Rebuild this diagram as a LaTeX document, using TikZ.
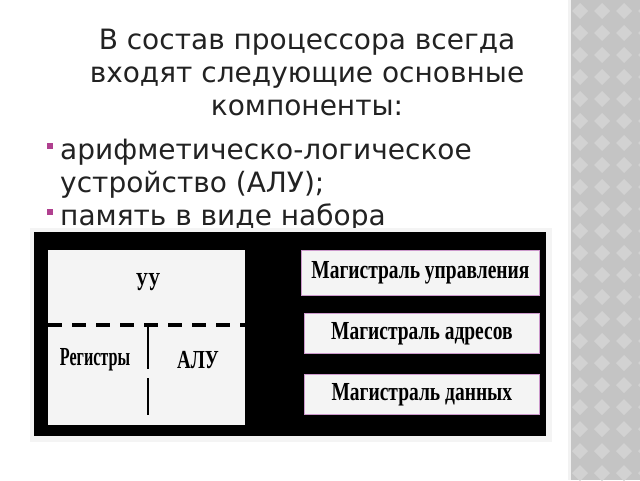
\documentclass[tikz,border=0pt]{standalone}
\usepackage{fontspec}
\setmainfont{DejaVu Sans}
\newfontfamily\tnr{Liberation Serif}
\definecolor{stripgray}{HTML}{C4C4C4}
\definecolor{diam}{HTML}{D2D2D2}
\definecolor{bul}{HTML}{B0408F}
\definecolor{txt}{HTML}{222222}
\definecolor{boxw}{HTML}{F4F4F4}
\tikzset{
 body/.style={font=\fontsize{28}{33}\selectfont, text=txt, anchor=west, inner sep=0},
 bus/.style={draw=violet!40, fill=boxw, line width=0.8pt},
 lbl/.style={font=\tnr\bfseries\fontsize{26}{28}\selectfont, inner sep=0},
 dsh/.style={line width=3.5pt, dash pattern=on 14pt off 10pt},
}
\begin{document}
\begin{tikzpicture}[x=1pt,y=-1pt]
\useasboundingbox (0,0) rectangle (640,480);
\fill[white] (0,0) rectangle (640,480);
% strip
\fill[stripgray] (570,0) rectangle (640,480);
\fill[white!90!gray] (568,0) rectangle (571,480);
\begin{scope}
\clip (572,0) rectangle (640,480);
\foreach \i in {0,...,22} \foreach \j in {0,...,4}
 \fill[diam] ({572+\j*22},{\i*22+11}) -- ++(8,-8) -- ++(8,8) -- ++(-8,8) -- cycle;
\end{scope}
% text
\node[font=\fontsize{28}{33}\selectfont, text=txt, align=center] (title) at (307,72)
 {В состав процессора всегда\\ входят следующие основные\\ компоненты:};
\node[body] (b1) at (60,152) {арифметическо-логическое};
\node[body] (b1b) at (60,185) {устройство (АЛУ);};
\node[body] (b2) at (60,218) {память в виде набора};
\fill[bul] (47,143) rectangle (53,149);
\fill[bul] (47,209) rectangle (53,215);
% diagram
\fill[boxw] (30,228) rectangle (552,442);
\fill[black] (34,232) rectangle (546,436);
\node[fill=boxw, minimum width=197, minimum height=175, inner sep=0, anchor=north west] (cpu) at (48,250) {};
\node[lbl] (uu) at (148,282) {\scalebox{0.64}[1]{УУ}};
\node[lbl] (reg) at (95,360) {\scalebox{0.62}[1]{Регистры}};
\node[lbl] (alu) at (198,360) {\scalebox{0.73}[1]{АЛУ}};
\coordinate (hl) at (48,325); \coordinate (hr) at (245,325);
\coordinate (vt) at (148,325); \coordinate (vb) at (148,415);
\draw[dsh] (hl) -- (hr);
\draw[line width=2.5pt, dash pattern=on 44pt off 9pt] (vt) -- (vb);
\node[bus, minimum width=238, minimum height=45, anchor=north west] (m1) at (301,250) {};
\node[lbl] at (m1.center) {\scalebox{0.75}[1]{Магистраль управления}};
\node[bus, minimum width=235, minimum height=40, anchor=north west] (m2) at (304,313) {};
\node[lbl] at (m2.center) {\scalebox{0.75}[1]{Магистраль адресов}};
\node[bus, minimum width=235, minimum height=40, anchor=north west] (m3) at (304,374) {};
\node[lbl] at (m3.center) {\scalebox{0.75}[1]{Магистраль данных}};
\end{tikzpicture}
\end{document}
